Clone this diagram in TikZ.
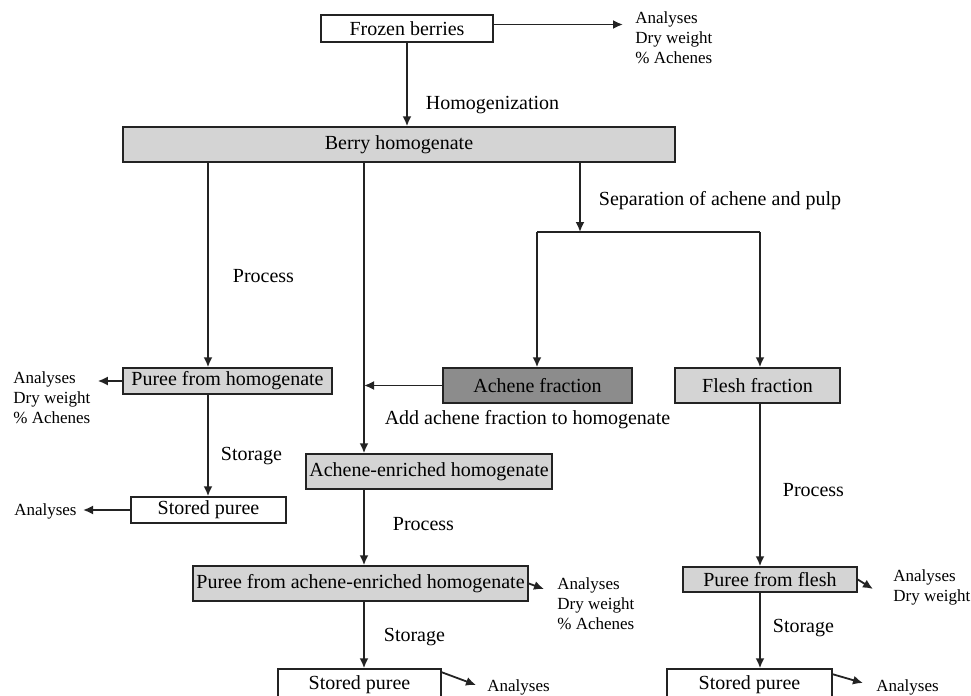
\documentclass[tikz,border=0pt]{standalone}
\usepackage{fontspec}
\setmainfont{Liberation Serif}
\usetikzlibrary{positioning,arrows.meta}
\definecolor{lightfill}{RGB}{212,212,212}
\definecolor{darkfill}{RGB}{140,140,140}
\definecolor{ink}{RGB}{35,35,35}
\begin{document}
\begin{tikzpicture}[
          x=0.5pt, y=0.5pt,
          box/.style={draw=ink, line width=0.75pt, inner sep=0pt, font=\fontsize{10}{12}\selectfont},
          plain/.style={box, fill=white},
          light/.style={box, fill=lightfill},
          dark/.style={box, fill=darkfill},
          link/.style={draw=ink, line width=0.9pt},
          flow/.style={link, -{Latex[length=5pt,width=4.5pt]}},
          lbl/.style={inner sep=0pt, font=\fontsize{10}{12}\selectfont},
          note/.style={inner sep=0pt, align=left, font=\fontsize{8.5}{10}\selectfont}
        ]
        \useasboundingbox (0,0) rectangle (971,-696);
        \node[plain, minimum width=86pt, minimum height=13.5pt] (frozen) at (407,-28.5) {Frozen berries};
        \node[light, minimum width=276pt, minimum height=17.5pt] (homog) at (399,-144.5) {Berry homogenate};
        \node[light, minimum width=104.5pt, minimum height=13pt] (pureeh) at (227.5,-381) {Puree from homogenate};
        \node[dark, minimum width=94.5pt, minimum height=17.5pt] (achene) at (537.5,-385.5) {Achene fraction};
        \node[light, minimum width=82.5pt, minimum height=17.5pt] (flesh) at (757.5,-385.5) {Flesh fraction};
        \node[light, minimum width=123pt, minimum height=17.5pt] (enriched) at (429,-471.5) {Achene-enriched homogenate};
        \node[plain, minimum width=77.5pt, minimum height=13pt] (storedh) at (208.5,-510) {Stored puree};
        \node[light, minimum width=167.5pt, minimum height=17.5pt] (pureee) at (360.5,-583.5) {Puree from achene-enriched homogenate};
        \node[plain, minimum width=81.5pt, minimum height=16pt] (storede) at (359.5,-685) {Stored puree};
        \node[light, minimum width=87pt, minimum height=12.5pt] (pureef) at (770,-579.5) {Puree from flesh};
        \node[plain, minimum width=82.5pt, minimum height=16pt] (storedf) at (749.5,-685) {Stored puree};

        \node[note, anchor=north west] (nfrozen) at (635,-11) {Analyses\\Dry weight\\\% Achenes};
        \node[note, anchor=north west] (npureeh) at (13,-371) {Analyses\\Dry weight\\\% Achenes};
        \node[note, anchor=north west] (npureee) at (557,-577) {Analyses\\Dry weight\\\% Achenes};
        \node[note, anchor=north west] (npureef) at (893,-569) {Analyses\\Dry weight};
        \node[note, anchor=east] (nstoredh) at (77,-511) {Analyses};
        \node[note, anchor=west] (nstorede) at (487,-687) {Analyses};
        \node[note, anchor=west] (nstoredf) at (876,-687) {Analyses};

        \coordinate (coll) at (208,0);
        \coordinate (colm) at (364,0);
        \coordinate (colr) at (580,0);
        \coordinate (sepl) at (537,-232);
        \coordinate (sepr) at (760,-232);
        \coordinate (tpureee) at (544,-589);
        \coordinate (tpureef) at (873,-589);
        \coordinate (tstorede) at (476,-685);
        \coordinate (tstoredf) at (863,-683);

        \draw[flow] (frozen.south) -- node[lbl, right=9pt, pos=0.74] (lhomog) {Homogenization} (frozen.south |- homog.north);
        \draw[flow, shorten >=6pt] ([yshift=2pt]frozen.east) -- ([yshift=2pt]frozen.east -| nfrozen.west);

        \draw[flow] (homog.south -| coll) -- node[lbl, right=12pt, pos=0.553] (lproch) {Process} (pureeh.north -| coll);
        \draw[flow] (pureeh.south -| coll) -- node[lbl, right=6pt, pos=0.6] (lstorh) {Storage} (storedh.north -| coll);
        \draw[flow, shorten >=3.5pt] (pureeh.west) -- (pureeh.west -| npureeh.east);
        \draw[flow, shorten >=3pt] (storedh.west) -- (storedh.west -| nstoredh.east);

        \draw[flow] (homog.south -| colm) -- (enriched.north -| colm);
        \draw[flow] (enriched.south -| colm) -- node[lbl, right=14pt, pos=0.45] (lproce) {Process} (pureee.north -| colm);
        \draw[flow] (pureee.south -| colm) -- node[lbl, right=9.5pt, pos=0.53] (lstore) {Storage} (storede.north -| colm);
        \draw[flow] (pureee.east) -- (tpureee);
        \draw[flow] ([yshift=-2pt]storede.north east) -- (tstorede);

        \draw[flow] (homog.south -| colr) -- node[lbl, right=9pt, pos=0.54] (lsep) {Separation of achene and pulp} (colr |- sepl);
        \draw[link] (sepl) -- (sepr);
        \draw[flow] (sepl) -- (sepl |- achene.north);
        \draw[flow] (sepr) -- (sepr |- flesh.north);
        \draw[flow] (achene.west) -- (achene.west -| colm);
        \node[lbl, below=3pt of achene, xshift=-5pt] (ladd) {Add achene fraction to homogenate};

        \draw[flow] (flesh.south -| sepr) -- node[lbl, right=11pt, pos=0.53] (lprocf) {Process} (pureef.north -| sepr);
        \draw[flow] (pureef.south -| sepr) -- node[lbl, right=6pt, pos=0.47] (lstorf) {Storage} (storedf.north -| sepr);
        \draw[flow] (pureef.east) -- (tpureef);
        \draw[flow] ([yshift=-3pt]storedf.north east) -- (tstoredf);
        \end{tikzpicture}
\end{document}
